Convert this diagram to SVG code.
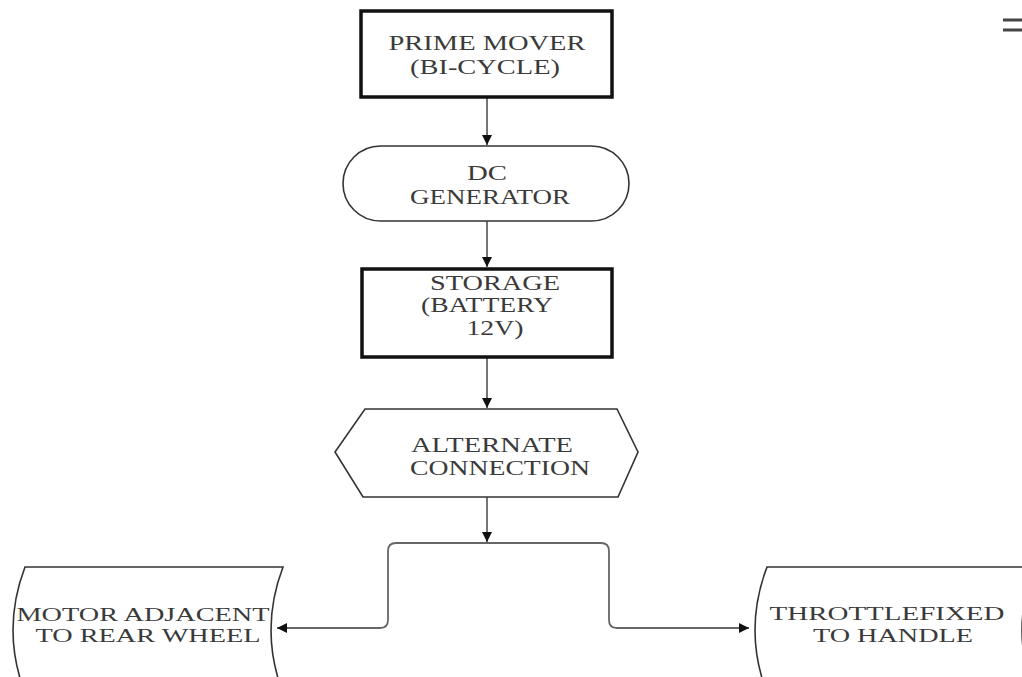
<svg xmlns="http://www.w3.org/2000/svg" width="1022" height="677" viewBox="0 0 1022 677">
<style>
.lbl{font-family:"Liberation Serif","Times New Roman",serif;font-size:21px;fill:#3a3a3a;text-anchor:middle}
.sm{font-size:19px}
.thick{fill:#fff;stroke:#111;stroke-width:3.5}
.thin{fill:#fff;stroke:#333;stroke-width:1.6}
.conn{fill:none;stroke:#666;stroke-width:1.8}
</style>
<defs>
<marker id="arr" viewBox="0 0 10 10" refX="10" refY="5" markerWidth="10" markerHeight="10" markerUnits="userSpaceOnUse" orient="auto">
<path d="M0,0 L10,5 L0,10 z" fill="#111"/>
</marker>
</defs>
<rect width="1022" height="677" fill="#fff"/>
<g id="connectors">
<line class="conn" x1="487" y1="98" x2="487" y2="145" marker-end="url(#arr)"/>
<line class="conn" x1="487" y1="221" x2="487" y2="267" marker-end="url(#arr)"/>
<line class="conn" x1="487" y1="358" x2="487" y2="408" marker-end="url(#arr)"/>
<line class="conn" x1="487" y1="497" x2="487" y2="542" marker-end="url(#arr)"/>
<path class="conn" d="M487,543 L396,543 Q388,543 388,551 L388,620 Q388,628 380,628 L277,628" marker-end="url(#arr)"/>
<path class="conn" d="M487,543 L601,543 Q609,543 609,551 L609,620 Q609,628 617,628 L749,628" marker-end="url(#arr)"/>
</g>
<g id="prime-mover">
<rect class="thick" x="361" y="11" width="251" height="86"/>
<text class="lbl" x="487" y="50" textLength="197" lengthAdjust="spacingAndGlyphs">PRIME MOVER</text>
<text class="lbl" x="485" y="74" textLength="150" lengthAdjust="spacingAndGlyphs">(BI-CYCLE)</text>
</g>
<g id="dc-generator">
<rect class="thin" x="343" y="146" width="286" height="75" rx="37.5" ry="37.5"/>
<text class="lbl" x="487" y="180" textLength="40" lengthAdjust="spacingAndGlyphs">DC</text>
<text class="lbl" x="490" y="204" textLength="160" lengthAdjust="spacingAndGlyphs">GENERATOR</text>
</g>
<g id="storage">
<rect class="thick" x="362" y="269" width="250" height="88"/>
<text class="lbl" x="495" y="290" textLength="130" lengthAdjust="spacingAndGlyphs">STORAGE</text>
<text class="lbl" x="487" y="312" textLength="132" lengthAdjust="spacingAndGlyphs">(BATTERY</text>
<text class="lbl" x="495" y="335" textLength="57" lengthAdjust="spacingAndGlyphs">12V)</text>
</g>
<g id="alternate-connection">
<polygon class="thin" points="365,409 617,409 638,452 618,497 363,497 335,452"/>
<text class="lbl" x="492" y="452" textLength="162" lengthAdjust="spacingAndGlyphs">ALTERNATE</text>
<text class="lbl" x="500" y="475" textLength="180" lengthAdjust="spacingAndGlyphs">CONNECTION</text>
</g>
<g id="motor">
<path class="thin" d="M25,567 L283,567 Q259,630 283,693 L25,693 Q1,630 25,567 Z"/>
<text class="lbl sm" x="143" y="621" textLength="253" lengthAdjust="spacingAndGlyphs">MOTOR ADJACENT</text>
<text class="lbl sm" x="148" y="642" textLength="225" lengthAdjust="spacingAndGlyphs">TO REAR WHEEL</text>
</g>
<g id="throttle">
<path class="thin" d="M767,567 L1034,567 Q1010,630 1034,693 L767,693 Q743,630 767,567 Z"/>
<text class="lbl sm" x="887" y="620" textLength="235" lengthAdjust="spacingAndGlyphs">THROTTLEFIXED</text>
<text class="lbl sm" x="893" y="642" textLength="160" lengthAdjust="spacingAndGlyphs">TO HANDLE</text>
</g>
<g id="corner-mark">
<line x1="1003" y1="20" x2="1022" y2="20" stroke="#444" stroke-width="3"/>
<line x1="1003" y1="30" x2="1022" y2="30" stroke="#444" stroke-width="3"/>
</g>
</svg>
